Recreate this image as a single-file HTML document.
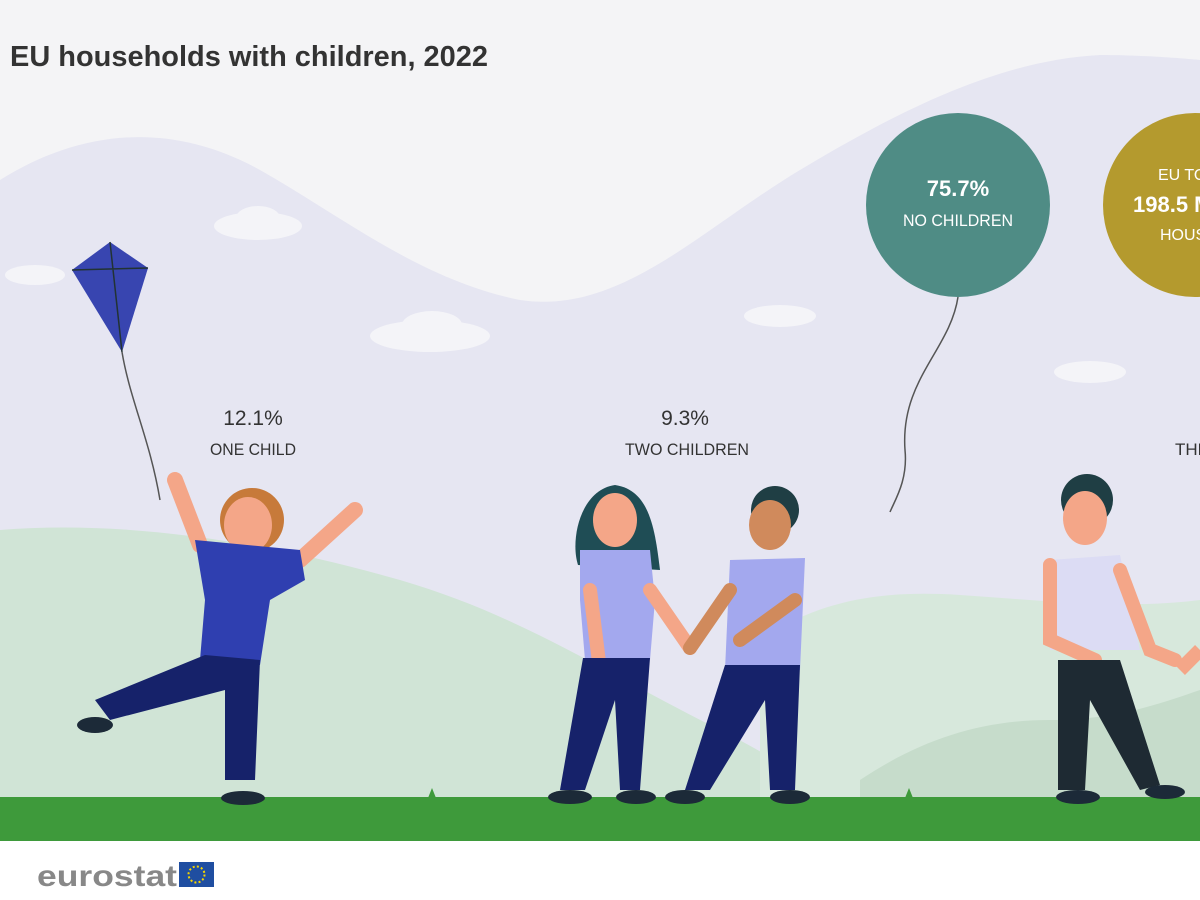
<!DOCTYPE html>
<html><head><meta charset="utf-8"><style>
body{margin:0;width:1200px;height:900px;overflow:hidden;background:#fff;font-family:"Liberation Sans",sans-serif}
svg{display:block}
</style></head><body>
<svg width="1200" height="900" viewBox="0 0 1200 900">
<rect width="1200" height="900" fill="#f4f4f6"/>
<!-- lavender hills -->
<path d="M0 180 C80 130 170 120 260 170 C340 215 420 280 520 300 C620 315 700 230 800 170 C900 110 1000 60 1100 55 C1150 55 1200 60 1200 60 L1200 840 L0 840 Z" fill="#e6e6f2"/>
<!-- clouds -->
<g fill="#f4f4f8">
<ellipse cx="258" cy="226" rx="44" ry="14"/><ellipse cx="258" cy="218" rx="22" ry="12"/>
<ellipse cx="35" cy="275" rx="30" ry="10"/>
<ellipse cx="430" cy="336" rx="60" ry="16"/><ellipse cx="432" cy="325" rx="30" ry="14"/>
<ellipse cx="780" cy="316" rx="36" ry="11"/>
<ellipse cx="1090" cy="372" rx="36" ry="11"/>
</g>
<!-- green hills -->
<path d="M0 530 C120 520 260 540 400 580 C520 615 600 670 720 730 C780 760 820 790 860 800 L0 800 Z" fill="#d0e4d6"/>
<path d="M760 640 C820 600 880 590 960 595 C1040 600 1120 610 1200 600 L1200 800 L760 800 Z" fill="#d7e8dc"/>
<path d="M860 780 C920 740 980 720 1050 720 C1120 720 1170 700 1200 690 L1200 800 L860 800 Z" fill="#c6dccb"/>
<!-- ground -->
<rect x="0" y="797" width="1200" height="44" fill="#3e9a3b"/>
<rect x="0" y="841" width="1200" height="59" fill="#ffffff"/>
<!-- title -->
<text x="10" y="66" font-size="29" font-weight="bold" fill="#333" textLength="478" lengthAdjust="spacingAndGlyphs">EU households with children, 2022</text>
<!-- balloons -->
<circle cx="958" cy="205" r="92" fill="#4f8c85"/>
<path d="M958 297 C950 350 900 380 905 450 C908 480 895 500 890 512" stroke="#555" stroke-width="1.5" fill="none"/>
<text x="958" y="196" text-anchor="middle" font-size="22" font-weight="bold" fill="#fff">75.7%</text>
<text x="958" y="226" text-anchor="middle" font-size="17" fill="#fff" textLength="110" lengthAdjust="spacingAndGlyphs">NO CHILDREN</text>
<circle cx="1195" cy="205" r="92" fill="#b49a2e"/>
<text x="1158" y="180" font-size="16" fill="#fff">EU TOT</text>
<text x="1133" y="212" font-size="22" font-weight="bold" fill="#fff">198.5 M</text>
<text x="1160" y="240" font-size="16" fill="#fff">HOUS</text>
<!-- labels -->
<text x="253" y="425" text-anchor="middle" font-size="21" fill="#333">12.1%</text>
<text x="253" y="455" text-anchor="middle" font-size="17" fill="#333" textLength="86" lengthAdjust="spacingAndGlyphs">ONE CHILD</text>
<text x="685" y="425" text-anchor="middle" font-size="21" fill="#333">9.3%</text>
<text x="687" y="455" text-anchor="middle" font-size="17" fill="#333" textLength="124" lengthAdjust="spacingAndGlyphs">TWO CHILDREN</text>
<text x="1175" y="455" font-size="17" fill="#333">THREE</text>
<!-- kite -->
<path d="M110 242 L148 268 L122 352 L72 270 Z" fill="#3845b0"/>
<path d="M110 242 L122 352 M72 270 L148 268" stroke="#233" stroke-width="1.5"/>
<path d="M122 352 C130 400 150 440 160 500" stroke="#555" stroke-width="1.5" fill="none"/>
<!-- kid 1 -->
<g>
<path d="M175 480 L200 545" stroke="#f4a688" stroke-width="16" stroke-linecap="round"/>
<path d="M300 560 L355 510" stroke="#f4a688" stroke-width="16" stroke-linecap="round"/>
<circle cx="252" cy="520" r="32" fill="#c77a3a"/>
<ellipse cx="248" cy="525" rx="24" ry="28" fill="#f4a688"/>
<path d="M195 540 L300 550 L305 580 L270 600 L260 665 L200 660 L205 600 Z" fill="#2f3fb0"/>
<path d="M205 655 L260 660 L255 780 L225 780 L225 690 L110 720 L95 700 Z" fill="#16226a"/>
<ellipse cx="243" cy="798" rx="22" ry="7" fill="#1c2a38"/>
<ellipse cx="95" cy="725" rx="18" ry="8" fill="#1c2a38"/>
</g>
<!-- kid 2 girl -->
<g>
<path d="M615 485 C580 490 570 540 578 565 L660 570 C655 530 650 490 615 485Z" fill="#1f4d55"/>
<ellipse cx="615" cy="520" rx="22" ry="27" fill="#f4a688"/>
<path d="M580 550 L650 550 L655 600 L650 660 L585 660 L580 600 Z" fill="#a3a8ee"/>
<path d="M590 590 L600 670" stroke="#f4a688" stroke-width="14" stroke-linecap="round"/>
<path d="M650 590 L690 648" stroke="#f4a688" stroke-width="14" stroke-linecap="round"/>
<path d="M583 658 L650 658 L640 790 L620 790 L615 700 L585 790 L560 790 Z" fill="#16226a"/>
<ellipse cx="570" cy="797" rx="22" ry="7" fill="#1c2a38"/>
<ellipse cx="636" cy="797" rx="20" ry="7" fill="#1c2a38"/>
</g>
<!-- kid 3 boy -->
<g>
<circle cx="775" cy="510" r="24" fill="#1f3e44"/>
<ellipse cx="770" cy="525" rx="21" ry="25" fill="#d08a5c"/>
<path d="M730 560 L805 558 L800 670 L725 670 Z" fill="#a3a8ee"/>
<path d="M730 590 L690 648" stroke="#d08a5c" stroke-width="14" stroke-linecap="round"/>
<path d="M795 600 L740 640" stroke="#d08a5c" stroke-width="14" stroke-linecap="round"/>
<path d="M725 665 L800 665 L795 790 L770 790 L765 700 L710 790 L685 790 Z" fill="#16226a"/>
<ellipse cx="685" cy="797" rx="20" ry="7" fill="#1c2a38"/>
<ellipse cx="790" cy="797" rx="20" ry="7" fill="#1c2a38"/>
</g>
<!-- kid 4 -->
<g>
<circle cx="1087" cy="500" r="26" fill="#1f3e44"/>
<ellipse cx="1085" cy="518" rx="22" ry="27" fill="#f4a688"/>
<path d="M1050 560 L1050 650 L1140 650 L1120 555 Z" fill="#dcdcf4"/>
<path d="M1050 565 L1050 640 L1095 660" stroke="#f4a688" stroke-width="14" stroke-linecap="round" fill="none"/>
<path d="M1120 570 L1150 650 L1175 660" stroke="#f4a688" stroke-width="14" stroke-linecap="round" fill="none"/>
<path d="M1058 660 L1120 660 L1160 785 L1140 790 L1090 700 L1085 790 L1058 790 Z" fill="#1e2a33"/>
<ellipse cx="1078" cy="797" rx="22" ry="7" fill="#1c2a38"/>
<ellipse cx="1165" cy="792" rx="20" ry="7" fill="#1c2a38"/>
<path d="M1180 670 L1200 650" stroke="#f4a688" stroke-width="14"/>
</g>
<!-- grass tufts -->
<path d="M428 798 l4 -10 l4 10 z M905 798 l4 -10 l4 10z" fill="#3e9a3b"/>
<!-- logo -->
<text x="37" y="886" font-size="30" fill="#888" font-weight="bold" textLength="140" lengthAdjust="spacingAndGlyphs">eurostat</text>
<rect x="179" y="862" width="35" height="25" fill="#1f4ea1"/>
<circle cx="196.5" cy="874.5" r="8" fill="none" stroke="#f5d400" stroke-width="2" stroke-dasharray="2 2.2"/>
</svg>
</body></html>
